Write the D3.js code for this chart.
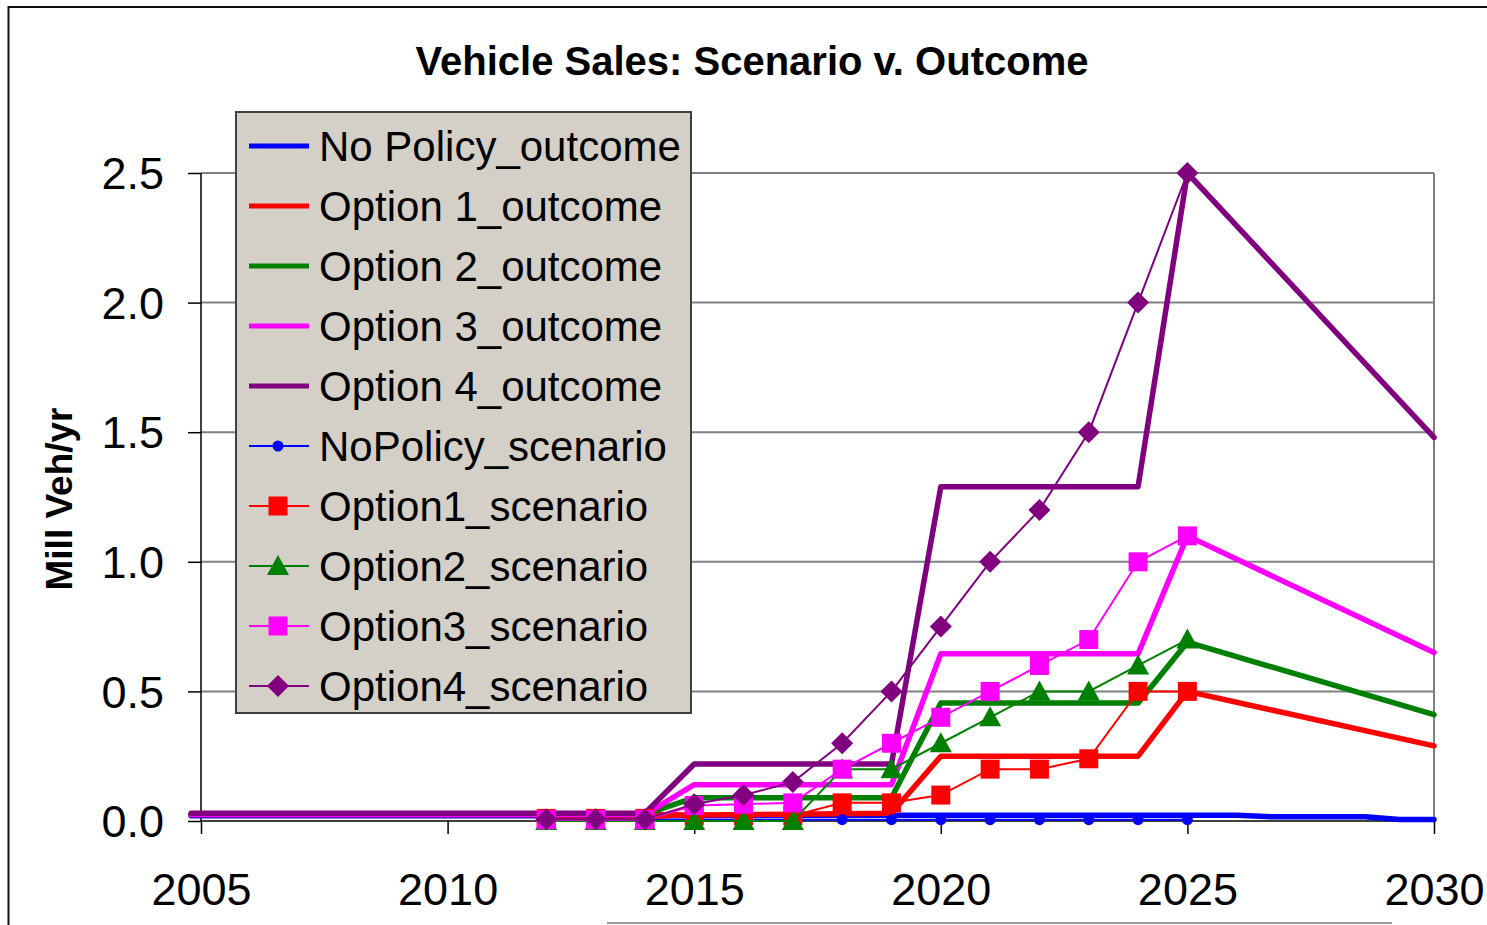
<!DOCTYPE html>
<html>
<head>
<meta charset="utf-8">
<script src="https://cdn.jsdelivr.net/npm/d3@7"></script>
<style>
  body { margin: 0; background: #fff; }
  svg { display: block; font-family: "Liberation Sans", Arial, sans-serif; }
</style>
</head>
<body>
<div id="chart"></div>
<script>
// chart values
let scenarioYears = [2012, 2013, 2014, 2015, 2016, 2017, 2018, 2019, 2020, 2021, 2022, 2023, 2024, 2025];
let noPolicyScenario = [0.005, 0.005, 0.005, 0.005, 0.005, 0.005, 0.005, 0.005, 0.005, 0.005, 0.005, 0.005, 0.005, 0.005];
let option1Scenario = [0.01, 0.01, 0.01, 0.02, 0.02, 0.02, 0.07, 0.07, 0.10, 0.20, 0.20, 0.24, 0.50, 0.50];
let option2Scenario = [0, 0, 0, 0, 0, 0, 0.20, 0.20, 0.30, 0.40, 0.50, 0.50, 0.60, 0.70];
let option3Scenario = [0.005, 0.005, 0.005, 0.06, 0.065, 0.07, 0.20, 0.30, 0.40, 0.50, 0.60, 0.70, 1.00, 1.10];
let option4Scenario = [0.007, 0.007, 0.007, 0.065, 0.10, 0.15, 0.30, 0.50, 0.75, 1.00, 1.20, 1.50, 2.00, 2.50];

let noPolicyOutcomeYears = [2004.8, 2014, 2019, 2026, 2026.7, 2028.6, 2029.3, 2030];
let noPolicyOutcome = [0.02, 0.02, 0.022, 0.022, 0.016, 0.016, 0.006, 0.006];
let optionOutcomeYears = [2004.8, 2014, 2015, 2019, 2020, 2024, 2025, 2030];
let option1Outcome = [0.025, 0.025, 0.023, 0.03, 0.25, 0.25, 0.50, 0.29];
let option2Outcome = [0.025, 0.025, 0.09, 0.09, 0.455, 0.455, 0.69, 0.41];
let option3Outcome = [0.025, 0.025, 0.14, 0.14, 0.645, 0.645, 1.10, 0.65];
let option4Outcome = [0.03, 0.03, 0.22, 0.22, 1.29, 1.29, 2.50, 1.48];

let xTicks = [2005, 2010, 2015, 2020, 2025, 2030];
let yTicks = [0, 0.5, 1.0, 1.5, 2.0, 2.5];

// series table built from the arrays above
let outcomes = [
  {name: "No Policy_outcome", color: "#0000ff", years: noPolicyOutcomeYears, values: noPolicyOutcome},
  {name: "Option 1_outcome", color: "#ff0000", years: optionOutcomeYears, values: option1Outcome},
  {name: "Option 2_outcome", color: "#008000", years: optionOutcomeYears, values: option2Outcome},
  {name: "Option 3_outcome", color: "#ff00ff", years: optionOutcomeYears, values: option3Outcome},
  {name: "Option 4_outcome", color: "#800080", years: optionOutcomeYears, values: option4Outcome}
];
let scenarios = [
  {name: "NoPolicy_scenario", color: "#0000ff", marker: "circle", values: noPolicyScenario},
  {name: "Option1_scenario", color: "#ff0000", marker: "square", values: option1Scenario},
  {name: "Option2_scenario", color: "#008000", marker: "triangle", values: option2Scenario},
  {name: "Option3_scenario", color: "#ff00ff", marker: "square", values: option3Scenario},
  {name: "Option4_scenario", color: "#800080", marker: "diamond", values: option4Scenario}
];

let w = 1487, h = 925;
let plot = {left: 201, right: 1434, top: 173, bottom: 821};

let viz = d3.select("#chart").append("svg")
    .attr("width", w)
    .attr("height", h);

// outer chart frame (runs off the right/bottom edge)
viz.append("rect")
    .attr("x", 8.5).attr("y", 7)
    .attr("width", 1600).attr("height", 1000)
    .attr("fill", "none")
    .attr("stroke", "#111")
    .attr("stroke-width", 2);

viz.append("line")
    .attr("x1", 607).attr("x2", 1392)
    .attr("y1", 923).attr("y2", 923)
    .attr("stroke", "#999")
    .attr("stroke-width", 2);

let xScale = d3.scaleLinear().domain([2005, 2030]).range([plot.left, plot.right]);
let yScale = d3.scaleLinear().domain([0, 2.5]).range([plot.bottom, plot.top]);

// gridlines
viz.append("g").selectAll("line").data(yTicks.filter(d => d > 0)).enter()
  .append("line")
    .attr("x1", plot.left).attr("x2", plot.right)
    .attr("y1", d => yScale(d)).attr("y2", d => yScale(d))
    .attr("stroke", "#808080")
    .attr("stroke-width", 2);

// right edge of the plot area
viz.append("line")
    .attr("x1", plot.right).attr("x2", plot.right)
    .attr("y1", plot.top).attr("y2", plot.bottom)
    .attr("stroke", "#808080")
    .attr("stroke-width", 2);

// axes
let xAxis = d3.axisBottom(xScale).tickValues(xTicks).tickFormat(d3.format("d")).tickSize(13).tickSizeOuter(0);
let xAxisGroup = viz.append("g").attr("class", "xaxis")
    .attr("transform", "translate(0," + plot.bottom + ")")
    .call(xAxis);
xAxisGroup.selectAll("text")
    .attr("y", 84).attr("dy", 0)
    .style("font-size", "45px")
    .attr("fill", "#000");

let yAxis = d3.axisLeft(yScale).tickValues(yTicks).tickFormat(d3.format(".1f")).tickSize(13).tickSizeOuter(0);
let yAxisGroup = viz.append("g").attr("class", "yaxis")
    .attr("transform", "translate(" + plot.left + ",0)")
    .call(yAxis);
yAxisGroup.selectAll("text")
    .attr("x", -37).attr("dy", "0.35em")
    .style("font-size", "45px")
    .attr("fill", "#000");

viz.selectAll(".xaxis path, .yaxis path, .xaxis line, .yaxis line")
    .attr("stroke", "#000")
    .attr("stroke-width", 1.5);
xAxisGroup.select("path").attr("d", "M" + plot.left + ",0H" + plot.right);
yAxisGroup.select("path").attr("d", "M0," + plot.top + "V" + plot.bottom);

// outcome lines (thick)
let line = d3.line().x(d => xScale(d[0])).y(d => yScale(d[1]));
viz.append("g").selectAll("path").data(outcomes).enter()
  .append("path")
    .attr("d", s => line(s.years.map((yr, i) => [yr, s.values[i]])))
    .attr("fill", "none")
    .attr("stroke", s => s.color)
    .attr("stroke-width", 5.5)
    .attr("stroke-linejoin", "round")
    .attr("stroke-linecap", "round");

// marker shapes
function markerPath(type) {
  if (type == "square") return "M-9.5,-9.5H9.5V9.5H-9.5Z";
  if (type == "triangle") return "M0,-11L11,9H-11Z";
  if (type == "diamond") return "M0,-11L11,0L0,11L-11,0Z";
  return d3.symbol().type(d3.symbolCircle).size(95)();
}

// scenario series (thin line + markers)
scenarios.forEach(function(s){
  let g = viz.append("g").attr("class", "scenario");
  let pts = scenarioYears.map((yr, i) => [yr, s.values[i]]);
  g.append("path")
      .attr("d", line(pts))
      .attr("fill", "none")
      .attr("stroke", s.color)
      .attr("stroke-width", 2);
  g.selectAll(".mk").data(pts).enter()
    .append("path")
      .attr("class", "mk")
      .attr("transform", d => "translate(" + xScale(d[0]) + "," + yScale(d[1]) + ")")
      .attr("d", markerPath(s.marker))
      .attr("fill", s.color);
});

// title
viz.append("text")
    .attr("x", 752).attr("y", 75)
    .attr("text-anchor", "middle")
    .style("font-size", "40px")
    .style("font-weight", "bold")
    .text("Vehicle Sales: Scenario v. Outcome");

// y axis label
viz.append("text")
    .attr("transform", "translate(72,499) rotate(-90)")
    .attr("text-anchor", "middle")
    .style("font-size", "37px")
    .style("font-weight", "bold")
    .text("Mill Veh/yr");

// legend
let legend = viz.append("g").attr("class", "legend");
legend.append("rect")
    .attr("x", 236).attr("y", 112)
    .attr("width", 455).attr("height", 601)
    .attr("fill", "#d4d0c8")
    .attr("stroke", "#404040")
    .attr("stroke-width", 2);

let legendItems = outcomes.map(s => ({name: s.name, color: s.color, thick: true}))
  .concat(scenarios.map(s => ({name: s.name, color: s.color, thick: false, marker: s.marker})));

let rows = legend.selectAll(".row").data(legendItems).enter()
  .append("g")
    .attr("class", "row")
    .attr("transform", (d, i) => "translate(0," + (146 + i * 60) + ")");
rows.append("line")
    .attr("x1", 249).attr("x2", 309)
    .attr("stroke", d => d.color)
    .attr("stroke-width", d => d.thick ? 5 : 2);
rows.filter(d => !d.thick).append("path")
    .attr("transform", "translate(278,0)")
    .attr("d", d => markerPath(d.marker))
    .attr("fill", d => d.color);
rows.append("text")
    .attr("x", 319).attr("dy", "0.36em")
    .style("font-size", "42px")
    .text(d => d.name);
</script>
</body>
</html>
